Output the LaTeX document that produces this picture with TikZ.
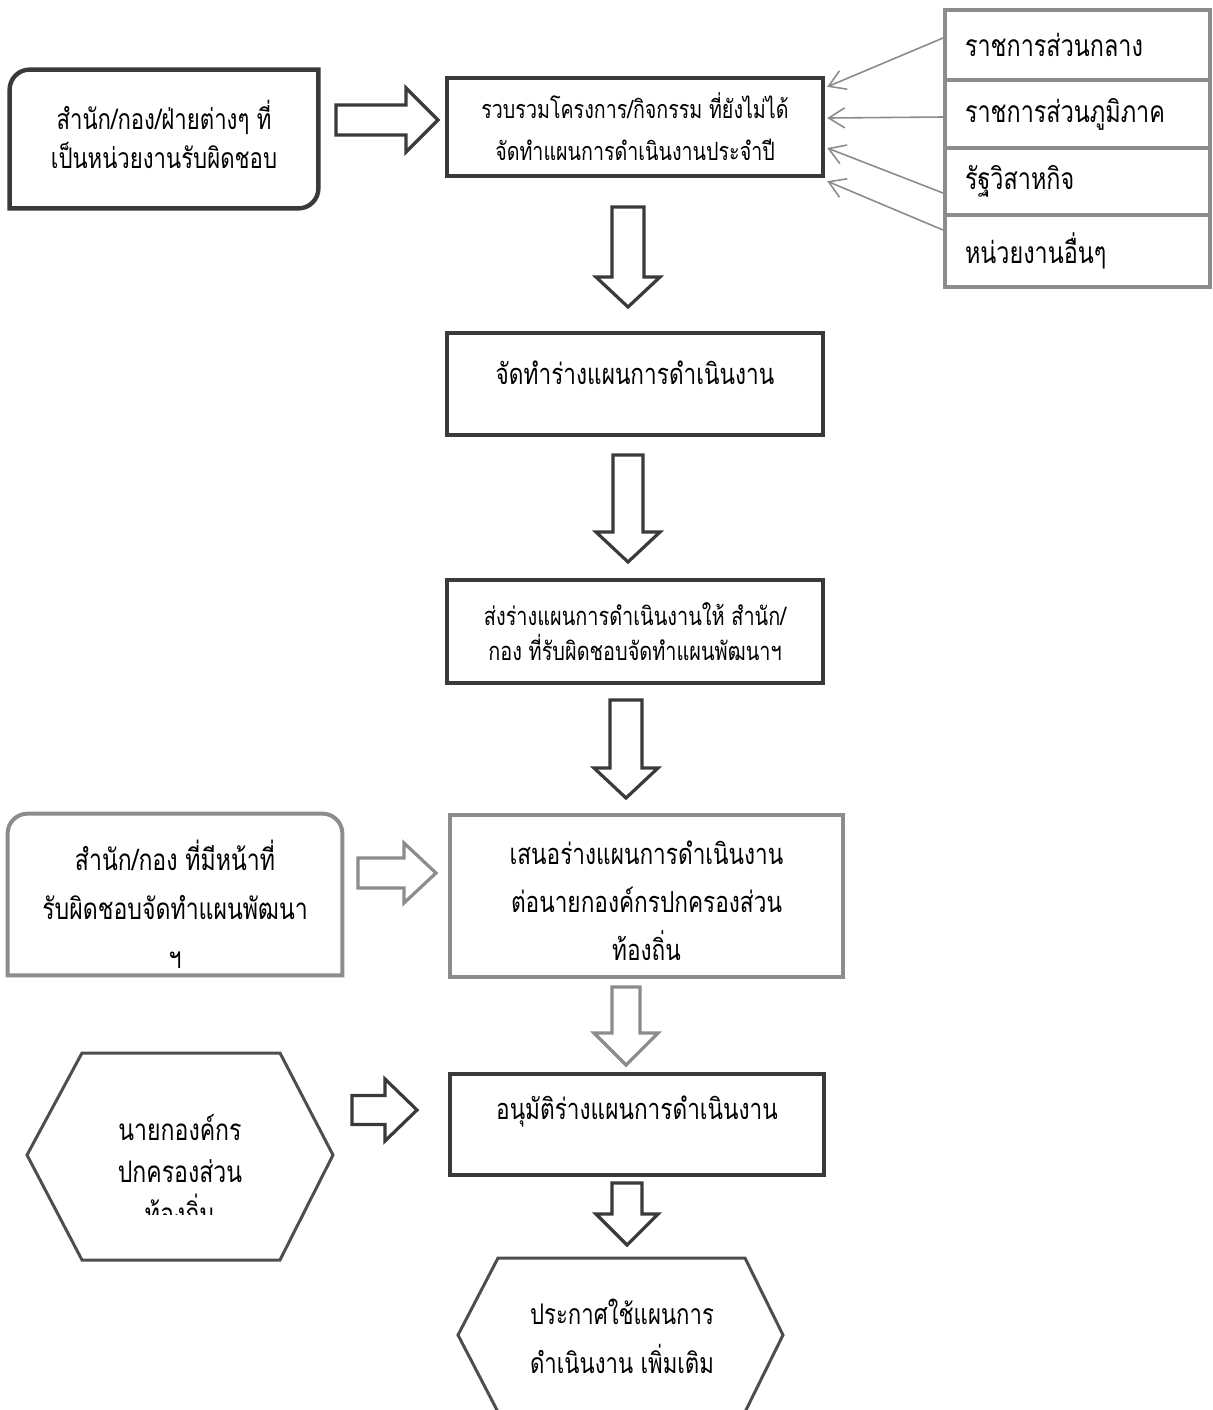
\documentclass[tikz,border=0pt]{standalone}
\usepackage{fontspec}
\newfontfamily\thai[Script=Thai,FakeStretch=0.78]{Loma}
\usetikzlibrary{arrows.meta,calc}
\definecolor{dk}{RGB}{58,58,58}
\definecolor{gy}{RGB}{140,140,140}
\definecolor{hx}{RGB}{78,78,78}
\tikzset{
 darkbox/.style={draw=dk, line width=2.2pt, rectangle, align=center, inner sep=0pt},
 greybox/.style={draw=gy, line width=2pt, rectangle, align=center, inner sep=0pt},
 plainbox/.style={rectangle, align=center, inner sep=0pt},
 darkline/.style={draw=dk, line width=2.2pt},
 greyline/.style={draw=gy, line width=2pt},
 blockdark/.style={draw=dk, line width=1.6pt, fill=white},
 blockgrey/.style={draw=gy, line width=1.6pt, fill=white},
 feed/.style={draw=gy, line width=0.8pt, -{Straight Barb[length=8pt,width=10pt]}},
 hexline/.style={draw=hx, line width=1.5pt},
 bigtext/.style={font=\thai\fontsize{14.5}{24}\selectfont},
 lefttext/.style={font=\thai\fontsize{14.8}{24.5}\selectfont},
 toptext/.style={font=\thai\fontsize{14.2}{19.5}\selectfont},
 midtext/.style={font=\thai\fontsize{12.6}{21}\selectfont},
 smalltext/.style={font=\thai\fontsize{12.75}{17.5}\selectfont},
 stacktext/.style={font=\thai\fontsize{15}{18}\selectfont},
}
% cx, top, headstart, tip, shaft half width, head half width, style
\newcommand\varrow[7]{\draw[#7] (#1-#5,#2) -- (#1+#5,#2) -- (#1+#5,#3) -- (#1+#6,#3) -- (#1,#4) -- (#1-#6,#3) -- (#1-#5,#3) -- cycle;}
% cy, left, headstart, tip, shaft half width, head half width, style
\newcommand\harrow[7]{\draw[#7] (#2,#1-#5) -- (#3,#1-#5) -- (#3,#1-#6) -- (#4,#1) -- (#3,#1+#6) -- (#3,#1+#5) -- (#2,#1+#5) -- cycle;}
\begin{document}
\begin{tikzpicture}[x=0.5pt,y=-0.5pt]
\useasboundingbox (0,0) rectangle (1212,1410);

% top-left source box
\node[plainbox, minimum width=154pt, minimum height=69pt,
  label={[toptext, yshift=2.5pt, align=center]center:สำนัก/กอง/ฝ่ายต่างๆ ที่\\เป็นหน่วยงานรับผิดชอบ}] (tl) at (164,139) {};
\draw[darkline] (tl.west) [rounded corners=10pt] |- (tl.north) [sharp corners] -| (tl.east)
  [rounded corners=10pt] |- (tl.south) [sharp corners] -| (tl.west);

% main flow
\node[darkbox, midtext, minimum width=188pt, minimum height=49pt] (b1) at (635,127)
  {รวบรวมโครงการ/กิจกรรม ที่ยังไม่ได้\\จัดทำแผนการดำเนินงานประจำปี};
\node[darkbox, minimum width=188pt, minimum height=51pt,
  label={[bigtext, yshift=5.5pt]center:จัดทำร่างแผนการดำเนินงาน}] (b2) at (635,384) {};
\node[darkbox, smalltext, minimum width=188pt, minimum height=51.5pt] (b3) at (635,631.5)
  {ส่งร่างแผนการดำเนินงานให้ สำนัก/\\กอง ที่รับผิดชอบจัดทำแผนพัฒนาฯ};
\node[greybox, minimum width=196.5pt, minimum height=81pt,
  label={[bigtext, yshift=-2.5pt, align=center]center:เสนอร่างแผนการดำเนินงาน\\ต่อนายกองค์กรปกครองส่วน\\ท้องถิ่น}] (b4) at (646.5,896) {};
\node[darkbox, minimum width=187pt, minimum height=50.5pt,
  label={[bigtext, yshift=6.75pt]center:อนุมัติร่างแผนการดำเนินงาน}] (b5) at (637,1124.5) {};

% right stack
\node[greybox, stacktext, minimum width=132.5pt, minimum height=35pt, text width=112.5pt, align=left] (s1) at (1077.5,45) {ราชการส่วนกลาง};
\node[greybox, stacktext, minimum width=132.5pt, minimum height=34pt, text width=112.5pt, align=left] (s2) at (1077.5,114) {ราชการส่วนภูมิภาค};
\node[greybox, stacktext, minimum width=132.5pt, minimum height=33.5pt, text width=112.5pt, align=left] (s3) at (1077.5,181.5) {รัฐวิสาหกิจ};
\node[greybox, stacktext, minimum width=132.5pt, minimum height=36pt, text width=112.5pt, align=left] (s4) at (1077.5,251) {หน่วยงานอื่นๆ};

\draw[feed] ($(s1.west)+(0,-7)$) -- ($(b1.north east)+(2,11)$);
\draw[feed] ($(s2.west)+(0,3)$) -- ($(b1.east)+(2,-9)$);
\draw[feed] ($(s3.west)+(0,11.5)$) -- ($(b1.east)+(2,21)$);
\draw[feed] ($(s4.west)+(0,-21)$) -- ($(b1.south east)+(2,3)$);

% left box 2
\node[plainbox, minimum width=167pt, minimum height=80.5pt,
  label={[lefttext, yshift=-5pt, align=center]center:สำนัก/กอง ที่มีหน้าที่\\รับผิดชอบจัดทำแผนพัฒนา\\ฯ}] (lb) at (175,894.5) {};
\draw[greyline] (lb.west) [rounded corners=10pt] |- (lb.north) -| (lb.east)
  [sharp corners] |- (lb.south) -| (lb.west);

% left hexagon
\draw[hexline] (82,1053) -- (280,1053) -- (333,1155) -- (280,1260) -- (82,1260) -- (27,1155) -- cycle;
\begin{scope}
\clip (0,1040) rectangle (400,1214);
\node[plainbox, font=\thai\fontsize{14.8}{21}\selectfont] (h1) at (180,1170) {นายกองค์กร\\ปกครองส่วน\\ท้องถิ่น};
\end{scope}

% bottom hexagon
\draw[hexline] (498,1258) -- (745,1258) -- (783,1335) -- (745,1412) -- (498,1412) -- (458,1335) -- cycle;
\node[plainbox, font=\thai\fontsize{14.2}{24.5}\selectfont] (h2) at (622,1336) {ประกาศใช้แผนการ\\ดำเนินงาน เพิ่มเติม};

% block arrows
\harrow{120}{336}{406}{438}{15}{32}{blockdark}
\harrow{873}{358}{404}{436}{15}{30}{blockgrey}
\harrow{1110}{352}{385}{417}{14.5}{31}{blockdark}
\varrow{628}{207}{277}{307}{16}{32}{blockdark}
\varrow{628}{455}{532}{562}{15}{32}{blockdark}
\varrow{626}{700}{768}{798}{16}{32}{blockdark}
\varrow{626}{987}{1033}{1065}{14}{32}{blockgrey}
\varrow{627}{1183}{1214}{1245}{15}{31}{blockdark}
\end{tikzpicture}
\end{document}
